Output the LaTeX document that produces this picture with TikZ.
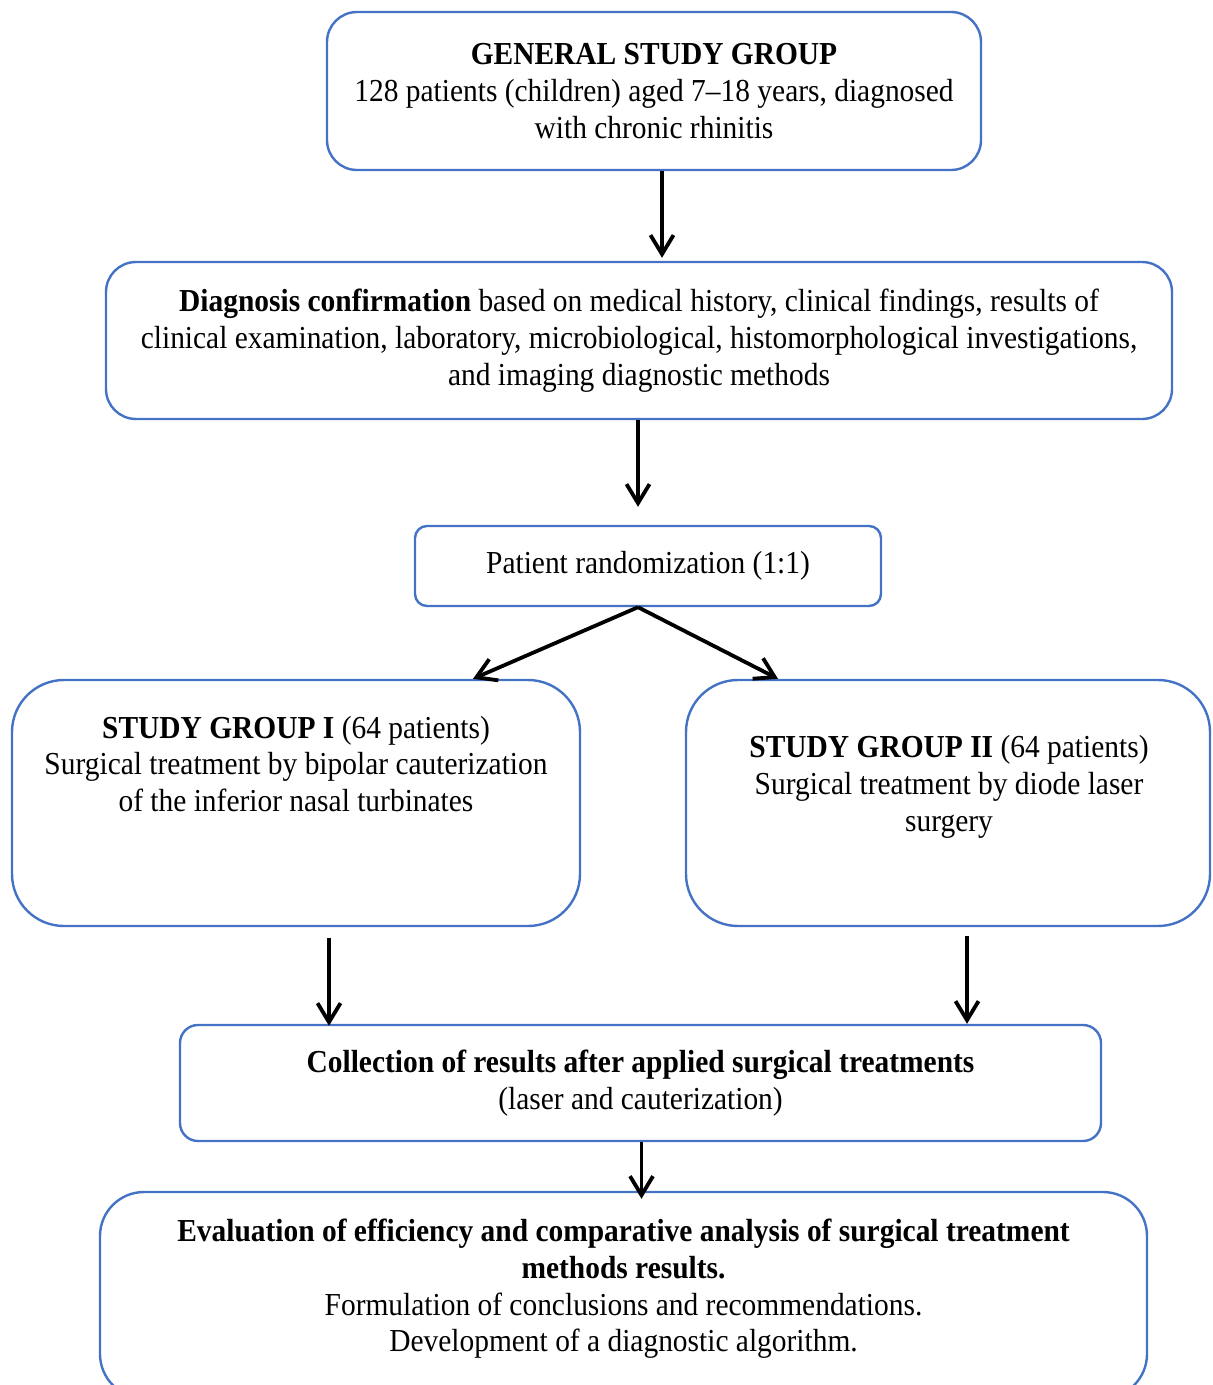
\documentclass[tikz,border=0pt]{standalone}
\usepackage{fontspec}
\setmainfont{Liberation Serif}[FakeStretch=0.92]
\usetikzlibrary{arrows.meta}
\definecolor{boxblue}{HTML}{4472C4}
\tikzset{
  >={Straight Barb[length=9.5pt, width=11.5pt]},
  flowbox/.style={draw=boxblue, line width=1.2pt, inner sep=0pt},
  flowtext/.style={align=center, inner sep=0pt, font=\fontsize{16}{18.35}\selectfont},
  flowarrow/.style={->, line width=1.9pt, black},
}

\begin{document}
\begin{tikzpicture}[x=0.5pt, y=-0.5pt]
  \useasboundingbox (0,0) rectangle (1212,1385);

  % ---- boxes, at pixel centres
  \node[flowbox, flowtext, minimum width=327pt, minimum height=79pt, rounded corners=15pt] (gen) at (654,91)
    {\textbf{GENERAL STUDY GROUP}\\128 patients (children) aged 7--18 years, diagnosed\\with chronic rhinitis};
  \node[flowbox, flowtext, minimum width=533pt, minimum height=78.5pt, rounded corners=15pt] (diag) at (639,340.5)
    {\textbf{Diagnosis confirmation} based on medical history, clinical findings, results of\\
     clinical examination, laboratory, microbiological, histomorphological investigations,\\
     and imaging diagnostic methods};
  \node[flowbox, flowtext, minimum width=233pt, minimum height=40pt, rounded corners=6pt] (rand) at (648,566)
    {Patient randomization (1:1)};
  \node[flowbox, minimum width=284pt, minimum height=123pt, rounded corners=26pt] (g1) at (296,803) {};
  \node[flowbox, minimum width=262pt, minimum height=123pt, rounded corners=26pt] (g2) at (948,803) {};
  \node[flowbox, flowtext, minimum width=460.5pt, minimum height=58pt, rounded corners=9pt] (coll) at (640.5,1083)
    {\textbf{Collection of results after applied surgical treatments}\\(laser and cauterization)};
  \node[flowbox, minimum width=523.5pt, minimum height=103pt, rounded corners=22pt] (eval) at (623.5,1295) {};

  % ---- texts of the tall boxes
  \node[flowtext] (g1t) at (296,764)
    {\textbf{STUDY GROUP I} (64 patients)\\Surgical treatment by bipolar cauterization\\of the inferior nasal turbinates};
  \node[flowtext] (g2t) at (949,787)
    {\textbf{STUDY GROUP II} (64 patients)\\Surgical treatment by diode laser\\surgery};
  \node[flowtext] (evalt) at (623.5,1289)
    {\textbf{Evaluation of efficiency and comparative analysis of surgical treatment}\\
     \textbf{methods results.}\\Formulation of conclusions and recommendations.\\
     Development of a diagnostic algorithm.};

  % ---- arrows
  \coordinate (split) at ([xshift=-5pt]rand.south);
  \draw[flowarrow, shorten >=1.5pt] ([xshift=4pt]gen.south) -- ([xshift=4pt]gen.south |- diag.north);
  \draw[flowarrow, shorten >=9pt] ([xshift=-0.5pt]diag.south) -- ([xshift=-0.5pt]diag.south |- rand.north);
  \draw[flowarrow] (split) -- ([xshift=88.5pt]g1.north);
  \draw[flowarrow] (split) -- ([xshift=-85pt]g2.north);
  \draw[flowarrow, shorten <=5.5pt, shorten >=-1pt] ([xshift=16.5pt]g1.south) -- ([xshift=16.5pt]g1.south |- coll.north);
  \draw[flowarrow, shorten <=4.5pt] ([xshift=9.5pt]g2.south) -- ([xshift=9.5pt]g2.south |- coll.north);
  \draw[flowarrow, shorten >=-4pt] ([xshift=0.5pt]coll.south) -- ([xshift=0.5pt]coll.south |- eval.north);

\end{tikzpicture}
\end{document}
